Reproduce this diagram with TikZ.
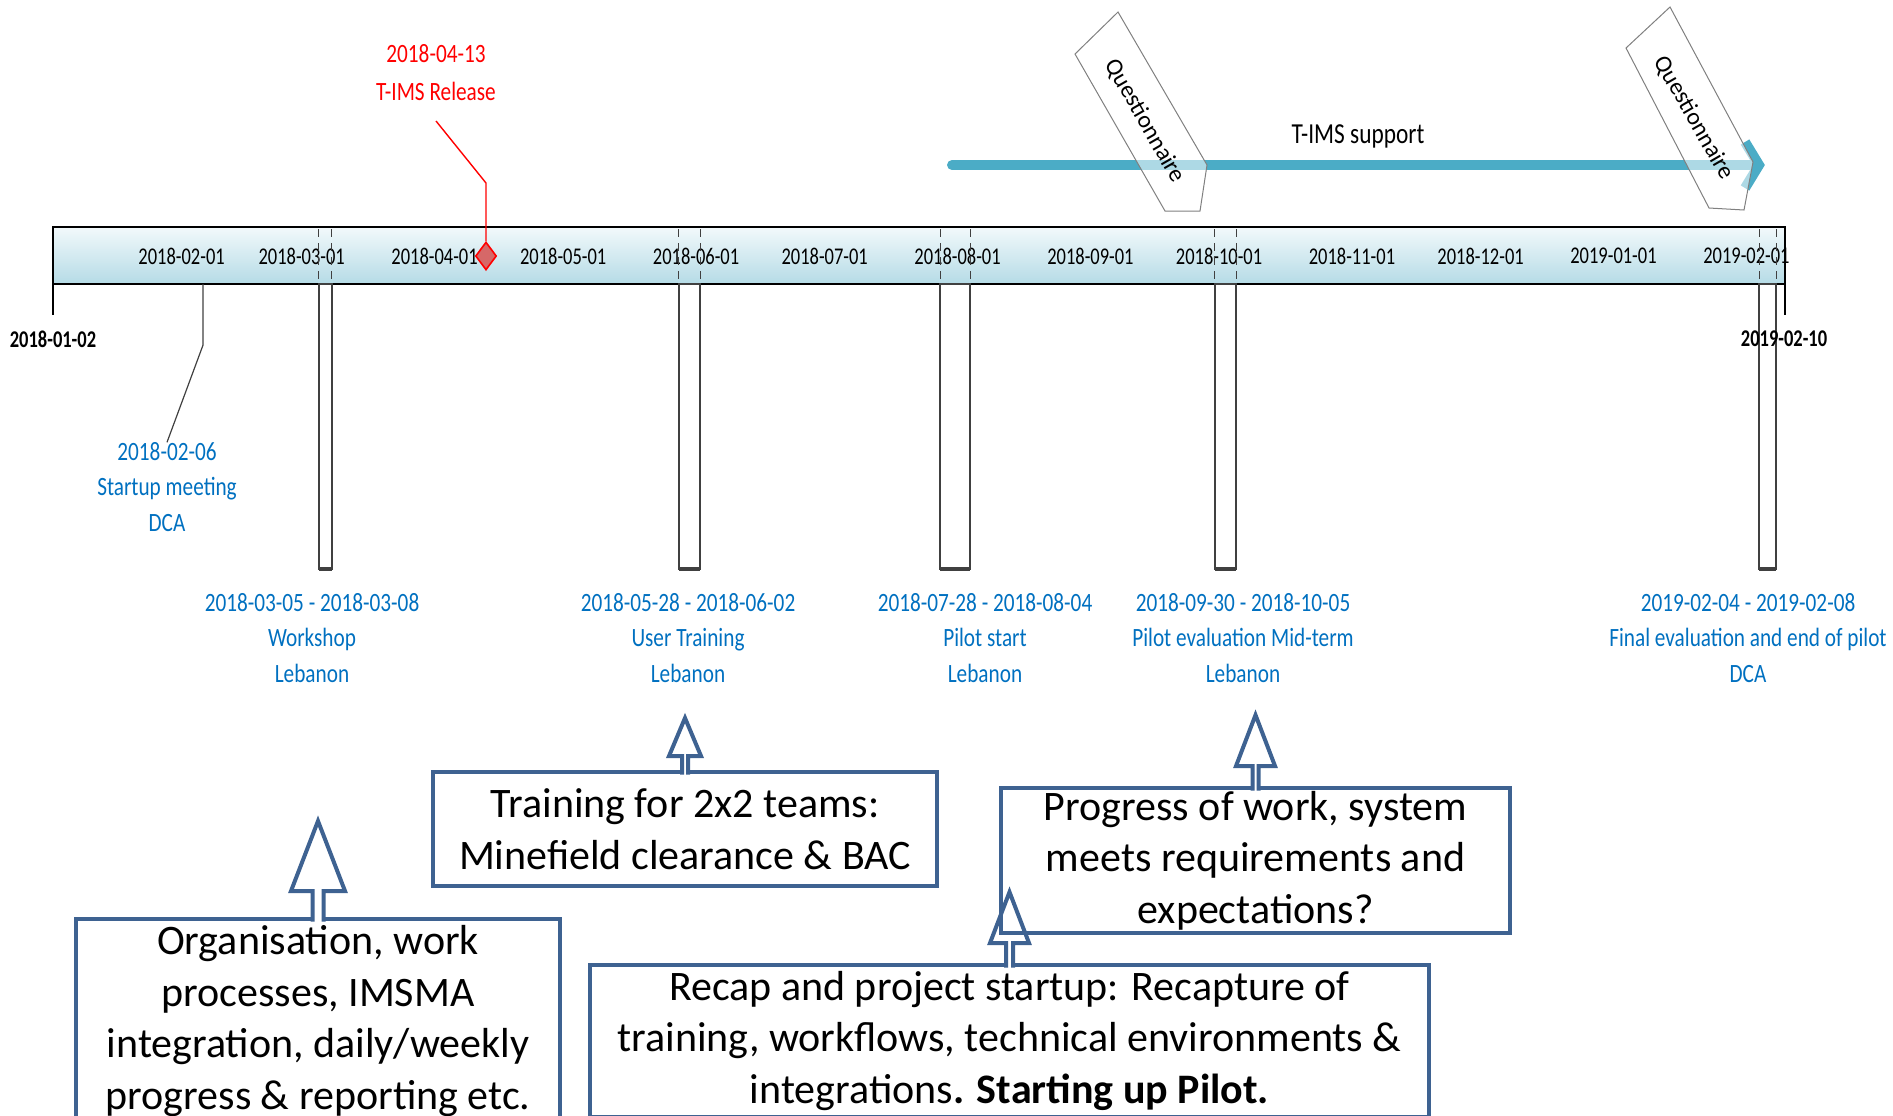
\documentclass[tikz,border=0pt]{standalone}
\usepackage{fontspec}
\setmainfont{Carlito}
\newfontfamily\tlfont[FakeStretch=0.805]{Carlito}
\newfontfamily\axfont[FakeStretch=0.77]{Carlito}
\usetikzlibrary{shapes.geometric}

\definecolor{boxblue}{RGB}{62,98,145}
\definecolor{lblblue}{RGB}{0,112,192}
\definecolor{supportteal}{RGB}{75,172,198}
\definecolor{bartop}{RGB}{242,249,251}
\definecolor{barbottom}{RGB}{181,219,230}
\definecolor{milered}{RGB}{214,104,104}
\definecolor{darkline}{RGB}{64,64,64}

\tikzset{
  monthlbl/.style={inner sep=0pt, font=\axfont\fontsize{12}{14}\selectfont},
  endlbl/.style={inner sep=0pt, font=\axfont\bfseries\fontsize{12}{14}\selectfont},
  evlbl/.style={text=lblblue, align=center, inner sep=0pt,
    font=\tlfont\fontsize{13.2}{17.6}\selectfont},
  callbox/.style={draw=boxblue, line width=2pt, align=center, inner sep=0pt,
    outer sep=0pt, font=\fontsize{21}{25.8}\selectfont},
  callarrow/.style={draw=boxblue, line width=2pt, fill=white, line join=miter},
  spanbox/.style={draw=darkline, fill=white, line width=1pt},
  qtag/.style={draw=gray, fill=white, fill opacity=0.55, line width=0.5pt},
  support/.style={draw=supportteal, line width=5pt, line cap=round},
}

% block arrow on top of a box: node, shaft half, base rise, head half, tip rise
\newcommand\calloutarrow[5]{%
  \draw[callarrow] (#1.north) ++(-#2,2.5) -- ++(0,{-#3-2.5}) -- ++({#2-#4},0)
    -- ++(#4,{#3-#5}) -- ++(#4,{#5-#3}) -- ++({#2-#4},0) -- ++(0,{#3+2.5});}

\begin{document}
\begin{tikzpicture}[x=0.5pt,y=-0.5pt]
  \useasboundingbox (0,0) rectangle (1893,1115);
  \clip (0,0) rectangle (1893,1115);

  % time axis
  \shade[top color=bartop, bottom color=barbottom] (53,227) rectangle (1785,284);
  \draw[line width=1.2pt] (53,227) rectangle (1785,284);
  \draw[line width=1pt] (53,284) -- (53,315);
  \draw[line width=1pt] (1785,284) -- (1785,315);

  \foreach \d/\t in {30/2018-02-01, 58/2018-03-01, 89/2018-04-01, 119/2018-05-01,
      150/2018-06-01, 180/2018-07-01, 211/2018-08-01, 242/2018-09-01,
      272/2018-10-01, 303/2018-11-01, 333/2018-12-01, 364/2019-01-01,
      395/2019-02-01}
    \node[monthlbl] (m\d) at ({53+4.287*\d},256) {\t};

  % intervals
  \foreach \a/\b in {62/65, 146/151, 207/214, 271/276, 398/402} {
    \draw[darkline, line width=0.5pt, dash pattern=on 4pt off 3pt]
      ({53+4.287*\a},229) -- ({53+4.287*\a},284)
      ({53+4.287*\b},229) -- ({53+4.287*\b},284);
    \draw[spanbox] ({53+4.287*\a},284) rectangle ({53+4.287*\b},569);
    \draw[darkline, line width=2pt] ({53+4.287*\a},569) -- ({53+4.287*\b},569);
  }

  \node[endlbl] (tstart) at (53,339) {2018-01-02};
  \node[endlbl] (tend) at (1784,339) {2019-02-10};

  \node[evlbl] (ev1) at (312,638) {2018-03-05 - 2018-03-08\\Workshop\\Lebanon};
  \node[evlbl] (ev2) at (688,638) {2018-05-28 - 2018-06-02\\User Training\\Lebanon};
  \node[evlbl] (ev3) at (985,638) {2018-07-28 - 2018-08-04\\Pilot start\\Lebanon};
  \node[evlbl] (ev4) at (1243,638) {2018-09-30 - 2018-10-05\\Pilot evaluation Mid-term\\Lebanon};
  \node[evlbl] (ev5) at (1748,638) {2019-02-04 - 2019-02-08\\Final evaluation and end of pilot\\DCA};

  % startup milestone
  \coordinate (stmark) at ({53+4.287*35},284);
  \coordinate (stbend) at ({53+4.287*35},345);
  \node[evlbl] (stlbl) at (167,487) {2018-02-06\\Startup meeting\\DCA};
  \draw[darkline, line width=0.6pt] (stmark) -- (stbend) -- (stlbl.north);

  % release milestone
  \node[evlbl, text=red, font=\tlfont\fontsize{13.2}{19}\selectfont] (rellbl)
    at (436,73) {2018-04-13\\T-IMS Release};
  \coordinate (relend) at (436,121);
  \coordinate (relbend) at (486,183);
  \node[diamond, draw=red, fill=milered, line width=0.8pt, inner sep=0pt,
    minimum width=10.5pt, minimum height=14pt] (rel) at (486,256) {};
  \draw[red, line width=0.7pt] (rel.north) -- (relbend) -- (relend);

  % support arrow
  \coordinate (supstart) at (952,165);
  \coordinate (suptip) at (1759,165);
  \draw[support] (supstart) -- (1752,165);
  \draw[support, line cap=butt, line join=miter] (1745,142) -- (suptip) -- (1745,188);
  \node[inner sep=0pt, font=\tlfont\fontsize{14.5}{17}\selectfont] (suplbl)
    at (1358,136) {T-IMS support};

  % questionnaires
  \draw[qtag] (1118,12) -- (1207,165) -- (1200,211) -- (1165,211) -- (1075,54) -- cycle;
  \node[rotate=-60, inner sep=0pt, font=\fontsize{12}{14}\selectfont] (q1)
    at (1145,121) {Questionnaire};
  \draw[qtag] (1670,7) -- (1753,162) -- (1744,210) -- (1709,208) -- (1626,48) -- cycle;
  \node[rotate=-60, inner sep=0pt, font=\fontsize{12}{14}\selectfont] (q2)
    at (1694,118) {Questionnaire};

  % notes
  \node[callbox, minimum width=252pt, minimum height=57pt] (train) at (685,829)
    {Training for 2x2 teams:\\Minefield clearance \& BAC};
  \calloutarrow{train}{3}{16}{16}{54}
  \node[callbox, minimum width=242pt, minimum height=102pt] (org) at (318,1021)
    {Organisation, work\\processes, IMSMA\\integration, daily/weekly\\progress \& reporting etc.};
  \calloutarrow{org}{5.5}{28}{27}{98}
  \node[callbox, minimum width=419.5pt, minimum height=76pt] (recap) at (1009.5,1041)
    {Recap and project startup: Recapture of\\training, workflows, technical environments \&\\integrations\textbf{. Starting up Pilot.}};
  \calloutarrow{recap}{3.5}{22}{19.5}{73}
  \node[callbox, minimum width=254.5pt, minimum height=72.5pt] (prog) at (1255.5,860.5)
    {Progress of work, system\\meets requirements and\\expectations?};
  \calloutarrow{prog}{3}{22}{19.5}{73}
\end{tikzpicture}
\end{document}
